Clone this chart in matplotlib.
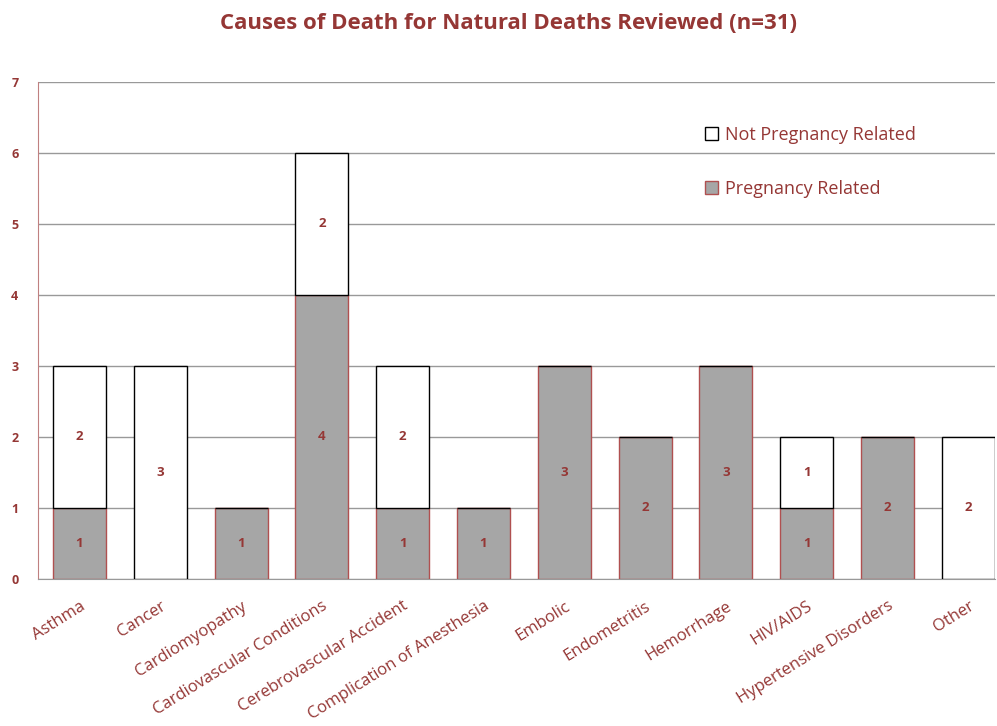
import matplotlib.pyplot as plt
import numpy as np

plt.rcParams['font.family'] = ['Open Sans', 'DejaVu Sans']

causes = ['Asthma', 'Cancer', 'Cardiomyopathy', 'Cardiovascular Conditions',
          'Cerebrovascular Accident', 'Complication of Anesthesia', 'Embolic',
          'Endometritis', 'Hemorrhage', 'HIV/AIDS', 'Hypertensive Disorders', 'Other']
pregnancy = [1, 0, 1, 4, 1, 1, 3, 2, 3, 1, 2, 0]
not_pregnancy = [2, 3, 0, 2, 2, 0, 0, 0, 0, 1, 0, 2]

red = '#953735'
x = np.arange(len(causes))

fig = plt.figure(figsize=(9.97, 7.26), dpi=100)
ax = fig.add_axes([0.038, 0.203, 0.960, 0.684])

b1 = ax.bar(x, pregnancy, 0.656, color='#a6a6a6', edgecolor='#b05050', linewidth=1,
            label='Pregnancy Related', zorder=3)
b2 = ax.bar(x, not_pregnancy, 0.656, bottom=pregnancy, color='white', edgecolor='black',
            linewidth=1, label='Not Pregnancy Related', zorder=3)

for i in range(len(causes)):
    if pregnancy[i]:
        ax.text(x[i], pregnancy[i] / 2, str(pregnancy[i]), ha='center', va='center',
                color=red, fontsize=9.5, fontweight='bold', zorder=4)
    if not_pregnancy[i]:
        ax.text(x[i], pregnancy[i] + not_pregnancy[i] / 2, str(not_pregnancy[i]),
                ha='center', va='center', color=red, fontsize=9.5, fontweight='bold', zorder=4)

ax.set_xlim(-0.514, 11.33)
ax.set_ylim(0, 7)
ax.set_yticks(range(8))
ax.yaxis.grid(True, color='#999999', linewidth=1, zorder=0)
ax.tick_params(length=0)
ax.tick_params(axis='y', labelcolor=red, labelsize=9, pad=14)
for t in ax.get_yticklabels():
    t.set_fontweight('bold')
ax.set_xticks(x)
ax.set_xticklabels(causes, rotation=32, ha='right', rotation_mode='anchor',
                   color=red, fontsize=12)
ax.tick_params(axis='x', pad=14)
for s in ['top', 'right']:
    ax.spines[s].set_visible(False)
ax.spines['left'].set_color('#c08080')
ax.spines['bottom'].set_color('#999999')

ax.legend(handles=[b2, b1], loc='upper left', bbox_to_anchor=(0.68, 0.945), frameon=False,
          labelspacing=2.0, handlelength=0.7, handleheight=0.7, handletextpad=0.4,
          fontsize=13, labelcolor=red)

fig.text(0.51, 0.968, 'Causes of Death for Natural Deaths Reviewed (n=31)', ha='center',
         va='center', color=red, fontsize=16, fontweight='bold')

fig.savefig('out.png')
